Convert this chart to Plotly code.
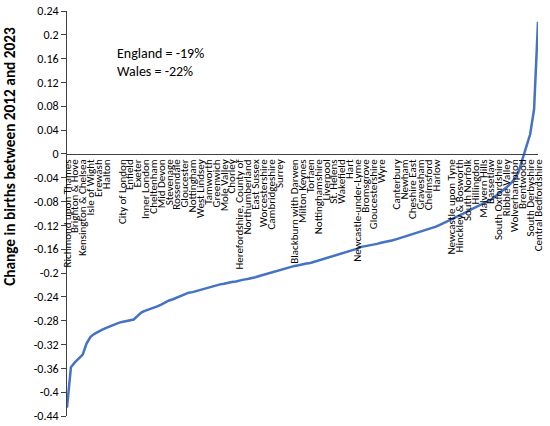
import plotly.graph_objects as go

# births change, local authorities sorted low to high
change = [
    -0.426, -0.358, -0.350, -0.344, -0.337, -0.318, -0.307, -0.302, -0.298, -0.295,
    -0.292, -0.289, -0.287, -0.284, -0.282, -0.281, -0.280, -0.278, -0.272, -0.266,
    -0.263, -0.261, -0.258, -0.256, -0.253, -0.249, -0.246, -0.244, -0.241, -0.239,
    -0.236, -0.233, -0.232, -0.230, -0.228, -0.226, -0.224, -0.222, -0.221, -0.219,
    -0.218, -0.216, -0.215, -0.214, -0.212, -0.211, -0.210, -0.209, -0.207, -0.205,
    -0.203, -0.201, -0.199, -0.197, -0.195, -0.193, -0.192, -0.190, -0.188, -0.187,
    -0.185, -0.184, -0.183, -0.181, -0.179, -0.177, -0.175, -0.173, -0.172, -0.170,
    -0.168, -0.166, -0.164, -0.162, -0.159, -0.156, -0.155, -0.154, -0.153, -0.151,
    -0.149, -0.148, -0.147, -0.145, -0.143, -0.141, -0.139, -0.137, -0.135, -0.133,
    -0.131, -0.129, -0.127, -0.125, -0.122, -0.119, -0.116, -0.113, -0.110, -0.107,
    -0.103, -0.100, -0.097, -0.093, -0.090, -0.087, -0.084, -0.081, -0.077, -0.072,
    -0.067, -0.062, -0.056, -0.050, -0.042, -0.031, -0.010, 0.008, 0.033, 0.075,
    0.222,
]

# every second area is labelled; '' where the label is blank
area_labels = [
    'Richmond upon Thames', 'Brighton & Hove', 'Kensington & Chelsea', 'Isle of Wight',
    'Erewash', 'Halton', '', 'City of London', 'Enfield', 'Exeter', 'Inner London',
    'Cheltenham', 'Mid Devon', 'Stevenage', 'Rossendale', 'Gloucester', 'Nottingham',
    'West Lindsey', 'Tamworth', 'Greenwich', 'Mole Valley', 'Chorley',
    'Herefordshire, County of', 'Northumberland', 'East Sussex', 'Worcestershire',
    'Cambridgeshire', 'Surrey', '', 'Blackburn with Darwen', 'Milton Keynes', 'Torfaen',
    'Nottinghamshire', 'Liverpool', 'St. Helens', 'Wakefield', 'Hart',
    'Newcastle-under-Lyme', 'Bromsgrove', 'Gloucestershire', 'Wyre', '', 'Canterbury',
    'Newham', 'Cheshire East', 'Gravesham', 'Chelmsford', 'Harlow', '',
    'Newcastle upon Tyne', 'Hinckley & Bosworth', 'South Norfolk', 'Hillingdon',
    'Malvern Hills', 'Bassetlaw', 'South Oxfordshire', 'Ribble Valley', 'Wolverhampton',
    'Brentwood', 'South Derbyshire', 'Central Bedfordshire',
]

y_ticks = [0.24, 0.2, 0.16, 0.12, 0.08, 0.04, 0, -0.04, -0.08, -0.12, -0.16, -0.2,
           -0.24, -0.28, -0.32, -0.36, -0.4, -0.44]

FONT = 'Carlito, Liberation Sans, Arial'
x = list(range(len(change)))

fig = go.Figure()
fig.add_trace(go.Scatter(x=x, y=change, mode='lines',
                         line={'width': 2.5, 'color': '#4472C4'}, showlegend=False))

fig.add_annotation(text='England = -19%<br>Wales = -22%', xref='paper', yref='paper',
                   x=0.102, y=0.92, xanchor='left', yanchor='top', align='left',
                   showarrow=False, font={'family': FONT, 'size': 14, 'color': '#000000'})
# axis title sits a bit above the middle of the axis, as in the original
fig.add_annotation(text='<b>Change in births between 2012 and 2023</b>', textangle=-90,
                   xref='paper', yref='paper', x=-0.121, y=0.64,
                   xanchor='center', yanchor='middle', showarrow=False,
                   font={'family': FONT, 'size': 15.3, 'color': '#000000'})

fig.update_layout(width=550, height=426, paper_bgcolor='white', plot_bgcolor='white',
                  margin={'l': 67, 'r': 12, 't': 11, 'b': 10, 'autoexpand': False},
                  font={'family': FONT, 'color': '#000000'})
fig.update_xaxes(range=[0, len(change) - 1], anchor='free', position=0.44 / 0.68,
                 tickmode='array', tickvals=x[::2], ticktext=area_labels,
                 tickangle=-90, tickfont={'size': 11}, showgrid=False, zeroline=False,
                 showline=True, linecolor='#404040', linewidth=1, ticks='',
                 automargin=False)
fig.update_yaxes(range=[-0.44, 0.24], tickmode='array', tickvals=y_ticks,
                 ticktext=[f'{v:g}' for v in y_ticks], tickfont={'size': 12},
                 ticks='outside', ticklen=5, tickcolor='#404040',
                 showline=True, linecolor='#404040', linewidth=1,
                 showgrid=False, zeroline=False, automargin=False)
# drop the browser's default page margin so the figure fills the window
fig.write_html('out.html', config={'displayModeBar': False},
               post_script="document.body.style.margin='0';")
